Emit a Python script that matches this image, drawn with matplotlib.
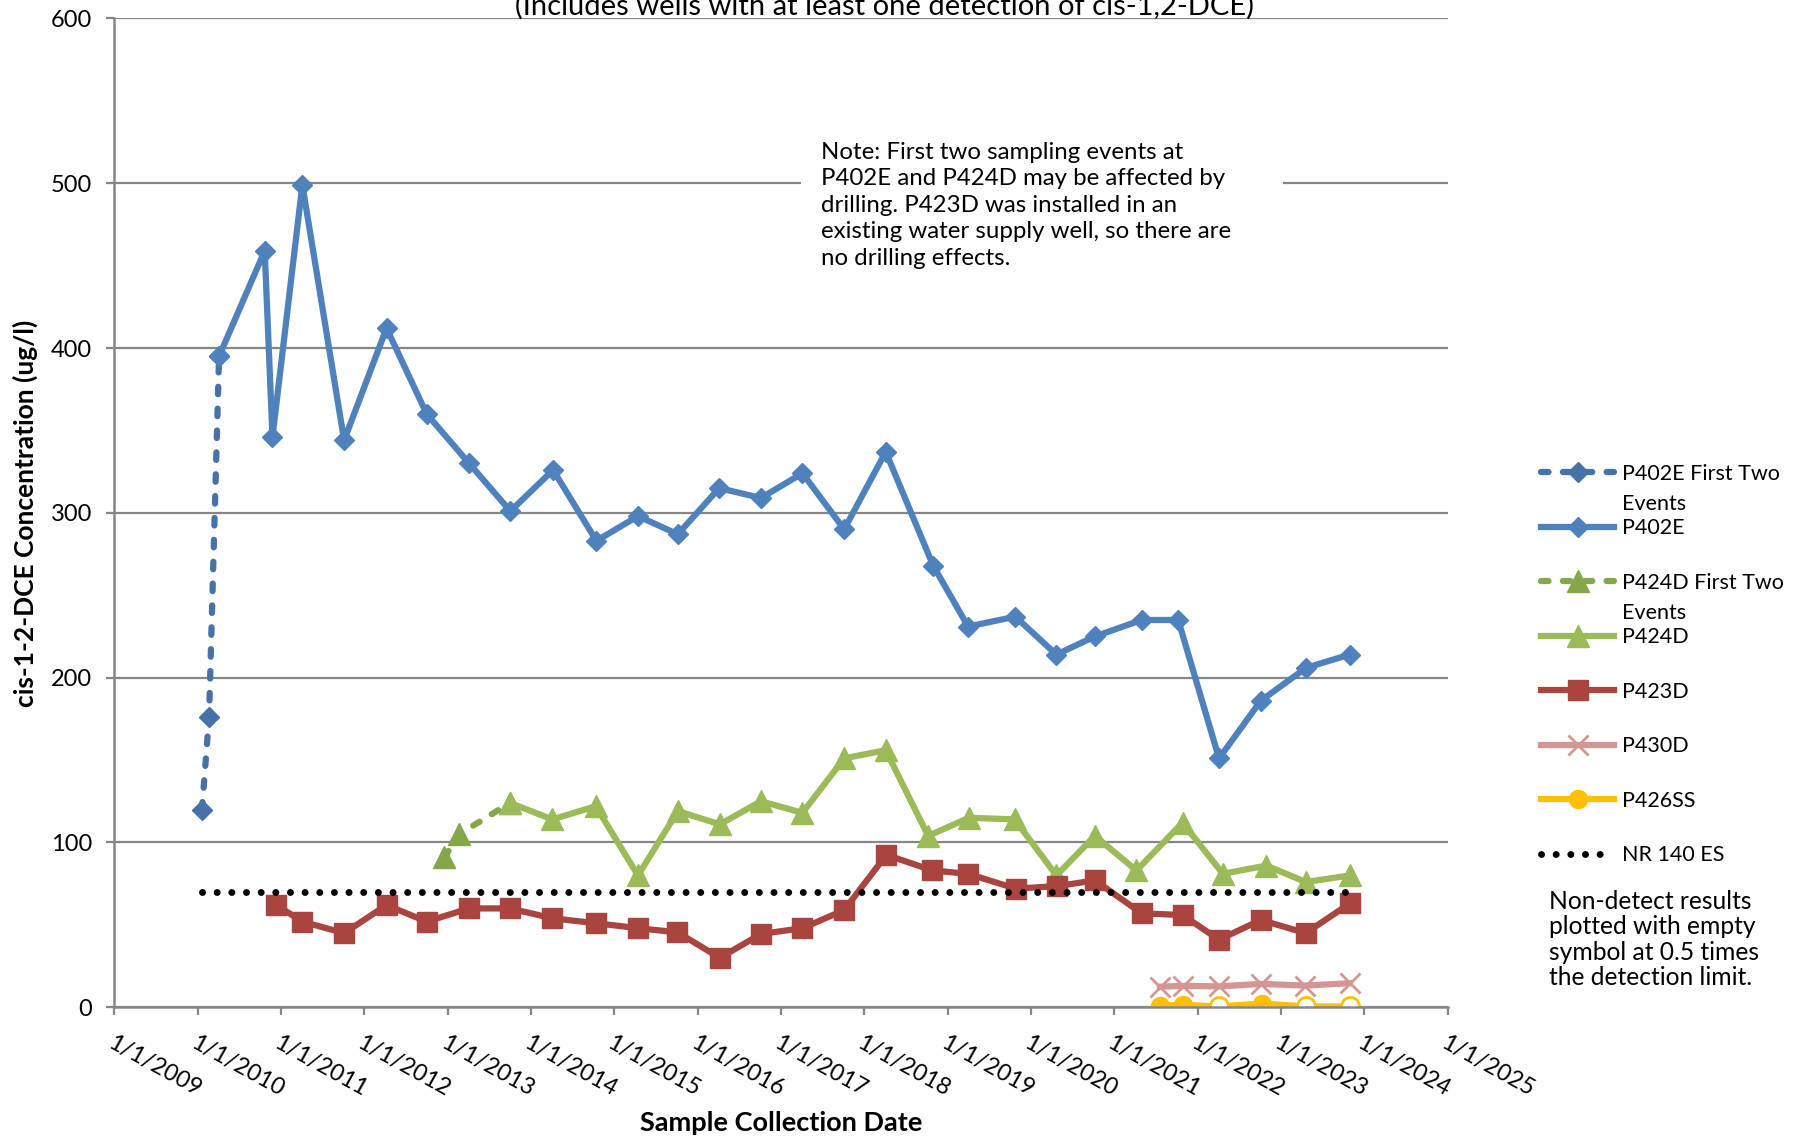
import matplotlib
matplotlib.use("Agg")
import matplotlib.pyplot as plt
import pandas as pd
from matplotlib.patches import Rectangle

plt.rcParams["font.family"] = ["Lato", "DejaVu Sans"]

# ---- data ----
p402e_first_dates = ["2010-01-20", "2010-02-20", "2010-04-05"]
p402e_first_vals = [120, 176, 395]

p402e_dates = [
    "2010-04-05", "2010-10-22", "2010-11-25", "2011-04-05", "2011-10-05",
    "2012-04-08", "2012-10-01", "2013-04-05", "2013-10-03", "2014-04-08",
    "2014-10-15", "2015-04-15", "2015-10-07", "2016-04-05", "2016-10-05",
    "2017-04-05", "2017-10-05", "2018-04-05", "2018-10-30", "2019-04-01",
    "2019-10-25", "2020-04-22", "2020-10-08", "2021-05-01", "2021-10-08",
    "2022-04-05", "2022-10-05", "2023-04-22", "2023-10-30",
]
p402e_vals = [
    395, 459, 346, 499, 344, 412, 360, 330, 301, 326, 283, 298, 287, 315, 309,
    324, 290, 337, 268, 231, 237, 214, 225, 235, 235, 151, 186, 206, 214,
]

p424d_first_dates = ["2012-12-18", "2013-02-21", "2013-10-01"]
p424d_first_vals = [91, 105, 124]

p424d_dates = [
    "2013-10-01", "2014-04-05", "2014-10-12", "2015-04-15", "2015-10-07",
    "2016-04-08", "2016-10-05", "2017-04-05", "2017-10-05", "2018-04-05",
    "2018-10-08", "2019-04-05", "2019-10-22", "2020-04-22", "2020-10-08",
    "2021-04-08", "2021-10-27", "2022-04-22", "2022-10-30", "2023-04-20",
    "2023-10-30",
]
p424d_vals = [
    124, 114, 122, 80, 119, 111, 125, 118, 151, 156, 104, 115, 114, 80, 104,
    83, 112, 81, 86, 76, 80,
]

p423d_dates = [
    "2010-12-12", "2011-04-05", "2011-10-05", "2012-04-08", "2012-10-01",
    "2013-04-05", "2013-10-01", "2014-04-05", "2014-10-15", "2015-04-15",
    "2015-10-05", "2016-04-08", "2016-10-05", "2017-04-05", "2017-10-05",
    "2018-04-08", "2018-10-27", "2019-04-01", "2019-10-27", "2020-04-25",
    "2020-10-08", "2021-05-01", "2021-10-27", "2022-04-05", "2022-10-05",
    "2023-04-20", "2023-10-30",
]
p423d_vals = [
    62, 52, 45, 62, 52, 60, 60, 54, 51, 48, 45.5, 30, 44.5, 48, 59, 92.5, 83,
    81, 72, 73.5, 77, 57, 56, 41, 53, 45, 63,
]

p430d_dates = ["2021-07-20", "2021-10-27", "2022-04-05", "2022-10-08", "2023-04-15", "2023-10-30"]
p430d_vals = [12.5, 13, 12.7, 14.2, 13.2, 14.6]

p426ss_dates = ["2021-07-20", "2021-10-27", "2022-04-05", "2022-10-12", "2023-04-20", "2023-10-30"]
p426ss_vals = [1.0, 1.5, 0.5, 2.3, 0.5, 0.5]
p426ss_nondetect = [False, False, True, False, True, True]

nr140_dates = ["2010-01-20", "2023-10-30"]
nr140_vals = [70, 70]

tick_years = list(range(2009, 2026))
tick_labels = [f"1/1/{y}" for y in tick_years]
y_ticks = [0, 100, 200, 300, 400, 500, 600]

title = "(Includes wells with at least one detection of cis-1,2-DCE)"
note = ("Note: First two sampling events at\n"
        "P402E and P424D may be affected by\n"
        "drilling. P423D was installed in an\n"
        "existing water supply well, so there are\n"
        "no drilling effects.")
nd_note = ("Non-detect results\nplotted with empty\n"
           "symbol at 0.5 times\nthe detection limit.")

# ---- figure ----
GRID = "#868686"
fig = plt.figure(figsize=(18.01, 11.40), dpi=100)
ax = fig.add_axes([0.0635, 0.1164, 0.7403, 0.8675])

dash = (0, (1.2, 2.3))
ax.plot(pd.to_datetime(p402e_first_dates), p402e_first_vals, color="#4672A8", lw=4.5,
        ls=dash, dash_capstyle="round", marker="D", ms=10, label="P402E First Two")
ax.plot(pd.to_datetime(p402e_dates), p402e_vals, color="#4F81BD", lw=4.5,
        marker="D", ms=10, label="P402E")
ax.plot(pd.to_datetime(p424d_first_dates), p424d_first_vals, color="#86A64A", lw=4.5,
        ls=dash, dash_capstyle="round", marker="^", ms=16, label="P424D First Two")
ax.plot(pd.to_datetime(p424d_dates), p424d_vals, color="#9BBB59", lw=4.5,
        marker="^", ms=16, label="P424D")
ax.plot(pd.to_datetime(p423d_dates), p423d_vals, color="#A9443F", lw=4.5,
        marker="s", ms=14, label="P423D")
ax.plot(pd.to_datetime(p430d_dates), p430d_vals, color="#D59593", lw=4.5,
        marker="x", ms=14, mew=2, label="P430D")

detect_idx = [i for i, nd in enumerate(p426ss_nondetect) if not nd]
ax.plot(pd.to_datetime(p426ss_dates), p426ss_vals, color="#FFC000", lw=4.5,
        marker="o", ms=13, markevery=detect_idx, label="P426SS")
nd_dates = [d for d, nd in zip(p426ss_dates, p426ss_nondetect) if nd]
nd_vals = [v for v, nd in zip(p426ss_vals, p426ss_nondetect) if nd]
ax.plot(pd.to_datetime(nd_dates), nd_vals, ls="none", marker="o", ms=13,
        mfc="white", mec="#FFC000", mew=2)

ax.plot(pd.to_datetime(nr140_dates), nr140_vals, color="black", lw=5,
        ls=(0, (0.01, 2.1)), dash_capstyle="round", label="NR 140 ES")

ax.set_xlim(pd.Timestamp("2009-01-01"), pd.Timestamp("2025-01-01"))
ax.set_ylim(0, 600)
ax.set_yticks(y_ticks)
ax.set_xticks(pd.to_datetime([f"{y}-01-01" for y in tick_years]))
ax.set_xticklabels(tick_labels, rotation=-29, ha="left", va="top",
                   rotation_mode="anchor")
ax.grid(axis="y", color=GRID, lw=1.6)
ax.set_axisbelow(True)
for s in ("top", "right"):
    ax.spines[s].set_visible(False)
for s in ("left", "bottom"):
    ax.spines[s].set_color(GRID)
    ax.spines[s].set_linewidth(1.8)
ax.tick_params(axis="both", color=GRID, width=1.6, length=6, labelsize=17)
ax.tick_params(axis="x", labelsize=16.8)
ax.tick_params(axis="y", pad=10)
ax.tick_params(axis="x", pad=12)

# white text box behind the note (covers the 500 gridline)
ax.add_patch(Rectangle((0.5147, 0.74), 0.3618, 0.14, transform=ax.transAxes,
                       facecolor="white", edgecolor="none", zorder=1))
ax.text(0.530, 0.875, note, transform=ax.transAxes, fontsize=17.3, va="top",
        ha="left", linespacing=1.32, zorder=3)

fig.text(0.491, 0.9873, title, fontsize=21, ha="center", va="baseline")
fig.text(0.0139, 0.5496, "cis-1-2-DCE Concentration (ug/l)", rotation=90,
         fontsize=19, fontweight="bold", ha="center", va="center")
fig.text(0.4337, 0.0146, "Sample Collection Date", fontsize=19.5,
         fontweight="bold", ha="center", va="center")

LFS = 15.5
handles = [ln for ln in ax.get_lines() if not ln.get_label().startswith("_")]
leg = fig.legend(handles, [h.get_label() for h in handles], loc="upper left",
                 bbox_to_anchor=(0.8556, 0.593), frameon=False, fontsize=LFS,
                 handlelength=3.4, handletextpad=0.35, labelspacing=1.6,
                 borderpad=0, borderaxespad=0)

fig.canvas.draw()
inv = fig.transFigure.inverted()
for i in (0, 2):
    bb = leg.get_texts()[i].get_window_extent().transformed(inv)
    fig.text(bb.x0, bb.y0 - 30 / 1140, "Events", fontsize=LFS, ha="left", va="bottom")

fig.text(0.860, 0.2193, nd_note, fontsize=17.7, ha="left", va="top", linespacing=1.13)

fig.savefig("out.png", dpi=100)
